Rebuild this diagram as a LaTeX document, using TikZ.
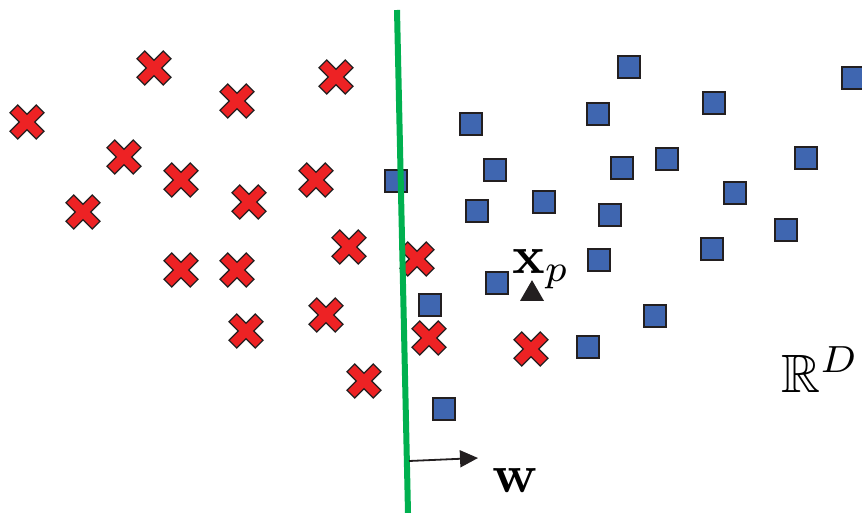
\documentclass[tikz,border=0pt]{standalone}
\usepackage{amssymb}
\usepackage{amsmath}
\usepackage{xcolor}
\usetikzlibrary{arrows.meta,shapes.geometric}

\definecolor{crossred}{HTML}{ED2224}
\definecolor{boxblue}{HTML}{3F66B0}
\definecolor{edgegray}{HTML}{231F20}
\definecolor{planegreen}{HTML}{00B04F}

\begin{document}
\begin{tikzpicture}[x=1pt,y=-1pt,
    bluebox/.style={rectangle, draw=edgegray, fill=boxblue, line width=1.2pt,
                    minimum size=22pt, inner sep=0pt},
    redcross/.pic={
        \filldraw[fill=crossred, draw=edgegray, line width=1.2pt, rotate=45]
            (5.5,18.5) -- (5.5,5.5) -- (18.5,5.5) -- (18.5,-5.5) -- (5.5,-5.5)
            -- (5.5,-18.5) -- (-5.5,-18.5) -- (-5.5,-5.5) -- (-18.5,-5.5)
            -- (-18.5,5.5) -- (-5.5,5.5) -- (-5.5,18.5) -- cycle;
    },
    label/.style={inner sep=0pt, scale=5.4},
    ]
    \useasboundingbox (0,0) rectangle (862,513);

    % class one: crosses
    \foreach \x/\y in {154/68, 27/122, 237/101, 336/77, 124/157, 181/180,
                       316/180, 83/212, 249/202, 349/247, 181/270, 237/270,
                       417/259, 326/315, 246/331, 429/338, 364/381, 531/349}
        \pic at (\x,\y) {redcross};

    % class two: squares
    \foreach \x/\y [count=\i] in {629/67, 853/78, 714/103, 471/124, 598/114,
                       396/181, 495/170, 622/168, 667/159, 806/158, 544/202,
                       477/211, 610/215, 735/193, 786/230, 712/249, 599/260,
                       497/283, 430/305, 655/316, 588/347, 444/409}
        \node[bluebox] (b\i) at (\x,\y) {};

    % query point
    \node[regular polygon, regular polygon sides=3, fill=edgegray,
          minimum size=27.7pt, inner sep=0pt] (xp) at (532,294) {};
    \node[label, anchor=base west] (xplabel) at (511,273) {$\mathbf{x}_p$};

    % separating plane and normal
    \coordinate (top) at (397,10);
    \coordinate (bottom) at (408,513);
    \draw[planegreen, line width=6pt] (top) -- (bottom);

    \coordinate (foot) at (409,461);
    \coordinate (tip) at (478,458);
    \draw[edgegray, line width=1.8pt, -{Triangle[length=18pt,width=17pt]}] (foot) -- (tip);
    \node[label, anchor=base west] (w) at (491,492) {$\mathbf{w}$};

    \node[label, anchor=base west] (space) at (780,392) {$\mathbb{R}^D$};
\end{tikzpicture}
\end{document}
